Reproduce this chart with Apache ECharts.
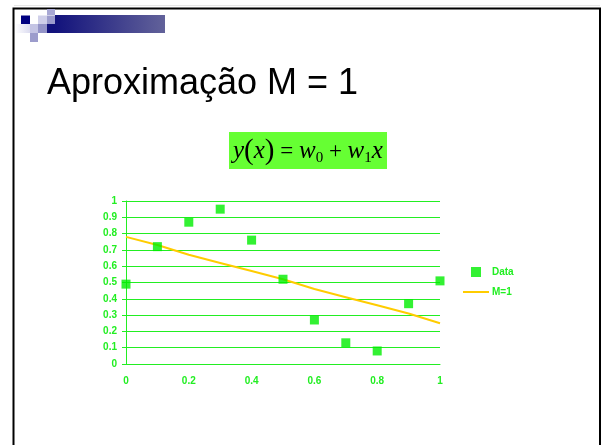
<!DOCTYPE html>
<html>
<head>
<meta charset="utf-8">
<script src="https://cdn.jsdelivr.net/npm/echarts@6/dist/echarts.min.js"></script>
<style>
html,body{margin:0;padding:0;background:#fff;}
#c{width:602px;height:445px;}
</style>
</head>
<body>
<div id="c"></div>
<script>
const xValues = [0, 0.1, 0.2, 0.3, 0.4, 0.5, 0.6, 0.7, 0.8, 0.9, 1.0];
const dataValues = [0.49, 0.72, 0.87, 0.95, 0.76, 0.52, 0.27, 0.13, 0.08, 0.37, 0.51];
const fitValues = [0.78, 0.73, 0.67, 0.62, 0.57, 0.52, 0.46, 0.41, 0.36, 0.31, 0.25];
const seriesNames = ['Data', 'M=1'];
const titleText = 'Aproximação M = 1';

const green = '#22ee22';
const chart = echarts.init(document.getElementById('c'), null, {renderer: 'canvas'});

const graphics = [
  // slide border
  {type: 'rect', shape: {x: 13.5, y: 8.5, width: 586.5, height: 460}, style: {fill: 'none', stroke: '#000', lineWidth: 2}, silent: true},
  {type: 'line', shape: {x1: 14, y1: 5.5, x2: 600, y2: 5.5}, style: {stroke: '#e6e6e6', lineWidth: 1}},
  // decorative squares
  {type: 'rect', shape: {x: 55, y: 15, width: 110, height: 18}, style: {fill: new echarts.graphic.LinearGradient(0, 0, 1, 0, [{offset: 0, color: '#12127c'}, {offset: 1, color: '#62629a'}])}},
  {type: 'rect', shape: {x: 47, y: 24, width: 8, height: 9}, style: {fill: '#12127c'}},
  {type: 'rect', shape: {x: 47, y: 9, width: 8, height: 6}, style: {fill: '#a8a8d4'}},
  {type: 'rect', shape: {x: 21, y: 15.5, width: 9, height: 9}, style: {fill: '#000080'}},
  {type: 'rect', shape: {x: 38, y: 15.5, width: 9, height: 8.5}, style: {fill: '#cfcfe9'}},
  {type: 'rect', shape: {x: 47, y: 15.5, width: 8, height: 8.5}, style: {fill: '#9c9ccc'}},
  {type: 'rect', shape: {x: 15, y: 24, width: 15, height: 9}, style: {fill: new echarts.graphic.LinearGradient(0, 0, 1, 0, [{offset: 0, color: '#ffffff'}, {offset: 1, color: '#dcdcf0'}])}},
  {type: 'rect', shape: {x: 30, y: 24, width: 8, height: 9}, style: {fill: '#c4c4e4'}},
  {type: 'rect', shape: {x: 38, y: 24, width: 9, height: 9}, style: {fill: '#9494c8'}},
  {type: 'rect', shape: {x: 30, y: 33, width: 8, height: 9}, style: {fill: '#9c9ccc'}},
  // title
  {type: 'text', left: 47, top: 66, style: {text: titleText, font: '36px "Liberation Sans", Arial, sans-serif', fill: '#000'}},
  // formula box
  {type: 'rect', shape: {x: 229, y: 132, width: 158, height: 37}, style: {fill: '#66ff33'}},
  {type: 'text', left: 233, top: 137, style: {
    text: '{i|y}{p|(}{i|x}{p|)}{n| = }{i|w}{s|0}{n| + }{i|w}{s|1}{i|x}',
    rich: {
      i: {font: 'italic 25px "Liberation Serif", "Times New Roman", serif', fill: '#000', lineHeight: 29},
      p: {font: '29px "Liberation Serif", "Times New Roman", serif', fill: '#000', lineHeight: 29},
      n: {font: '23px "Liberation Serif", "Times New Roman", serif', fill: '#000', lineHeight: 29},
      s: {font: '15px "Liberation Serif", "Times New Roman", serif', fill: '#000', lineHeight: 15, verticalAlign: 'bottom'}
    }
  }}
];

chart.setOption({
  animation: false,
  backgroundColor: '#fff',
  graphic: graphics,
  grid: {left: 126, right: 162, top: 201, bottom: 81, containLabel: false},
  legend: {
    orient: 'vertical', left: 463, top: 267, padding: 0,
    itemWidth: 26, itemHeight: 10, itemGap: 10,
    textStyle: {color: green, fontWeight: 'bold', fontSize: 10, fontFamily: '"Liberation Sans", Arial, sans-serif', padding: [0, 0, 0, -2]},
    data: [
      {name: seriesNames[0], icon: 'path://M0,0h9v9h-9z', itemStyle: {color: '#00ee00'}},
      {name: seriesNames[1], icon: 'path://M0,0M26,10M0,4h26v2h-26z', itemStyle: {color: '#ffcc00'}}
    ]
  },
  xAxis: {
    type: 'value', min: 0, max: 1, interval: 0.2,
    axisLine: {show: true, lineStyle: {color: green, width: 1}},
    axisTick: {show: false},
    splitLine: {show: false},
    axisLabel: {color: green, fontWeight: 'bold', fontSize: 10, fontFamily: '"Liberation Sans", Arial, sans-serif', margin: 12}
  },
  yAxis: {
    type: 'value', min: 0, max: 1, interval: 0.1,
    axisLine: {show: true, lineStyle: {color: green, width: 1}},
    axisTick: {show: true, inside: false, length: 4, lineStyle: {color: green}},
    splitLine: {show: true, lineStyle: {color: green, width: 1}},
    axisLabel: {color: green, fontWeight: 'bold', fontSize: 10, fontFamily: '"Liberation Sans", Arial, sans-serif', margin: 9}
  },
  series: [
    {
      name: seriesNames[0], type: 'scatter', symbol: 'rect', symbolSize: 9,
      itemStyle: {color: '#00ee00'},
      data: xValues.map((x, i) => [x, dataValues[i]]), z: 3
    },
    {
      name: seriesNames[1], type: 'line', showSymbol: false, symbol: 'none',
      lineStyle: {color: '#ffcc00', width: 2},
      itemStyle: {color: '#ffcc00'},
      data: xValues.map((x, i) => [x, fitValues[i]]), z: 2
    }
  ]
});
</script>
</body>
</html>
